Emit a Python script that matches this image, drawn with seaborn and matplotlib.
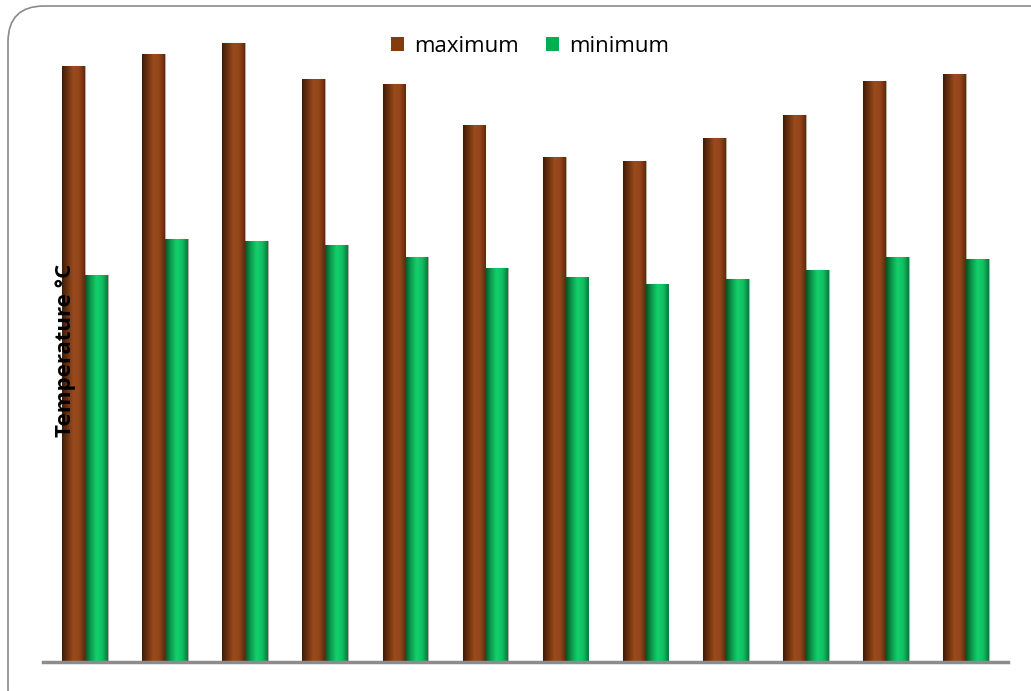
import numpy as np
import pandas as pd
import matplotlib
matplotlib.use("Agg")
import matplotlib.pyplot as plt
import seaborn as sns
from matplotlib.patches import FancyBboxPatch, Patch
from matplotlib.colors import LinearSegmentedColormap

# Monthly mean temperatures (°C)
months = ["Jan", "Feb", "Mar", "Apr", "May", "Jun",
          "Jul", "Aug", "Sep", "Oct", "Nov", "Dec"]
maximum = [33.4, 34.1, 34.7, 32.7, 32.4, 30.1, 28.3, 28.1, 29.4, 30.7, 32.6, 33.0]
minimum = [21.7, 23.7, 23.6, 23.4, 22.7, 22.1, 21.6, 21.2, 21.5, 22.0, 22.7, 22.6]
series = ["maximum", "minimum"]
colors = {"maximum": "#843C0C", "minimum": "#00B050"}

df = pd.DataFrame({
    "month": months * 2,
    "temp": maximum + minimum,
    "series": ["maximum"] * len(months) + ["minimum"] * len(months),
})

sns.set_theme(style="white")
plt.rcParams["font.family"] = ["Open Sans", "DejaVu Sans"]

fig = plt.figure(figsize=(10.31, 6.91), dpi=100)
ax = fig.add_axes([43 / 1031, 29 / 691, 965 / 1031, 642 / 691])

sns.barplot(data=df, x="month", y="temp", hue="series", hue_order=series,
            palette=colors, width=0.57, saturation=1, ax=ax,
            edgecolor="#b0b0b0", linewidth=0.8, legend=False)

# Cylinder-style shading across each bar
cmaps = {
    "maximum": LinearSegmentedColormap.from_list(
        "brown_cyl", ["#3f1c06", "#6e3210", "#9a4c1e", "#92461a", "#5e2a0c"]),
    "minimum": LinearSegmentedColormap.from_list(
        "green_cyl", ["#0a4f26", "#0c9a4a", "#14d06c", "#10c062", "#087a3a"]),
}
grad = np.linspace(0, 1, 256).reshape(1, -1)
n = len(months)
for i, patch in enumerate(ax.patches[:2 * n]):
    key = series[i // n]
    x0, y0 = patch.get_x(), patch.get_y()
    w, h = patch.get_width(), patch.get_height()
    im = ax.imshow(grad, cmap=cmaps[key], aspect="auto",
                   extent=(x0, x0 + w, y0, y0 + h), zorder=patch.get_zorder() + 0.1,
                   interpolation="bicubic")
    im.set_clip_path(patch)

pad = 0.025
ax.set_xlim(-0.5 - pad, n - 0.5 + pad)
ax.set_ylim(0, 36)
ax.set_xticks([])
ax.set_yticks([])
ax.set_xlabel("")
ax.set_ylabel("")
for side in ["top", "right", "left"]:
    ax.spines[side].set_visible(False)
ax.spines["bottom"].set_color("#8c8c8c")
ax.spines["bottom"].set_linewidth(2.5)
ax.spines["bottom"].set_zorder(5)
ax.set_facecolor("none")

# Axis title drawn over the first bar
fig.text(66 / 1031, 1 - 350 / 691, "Temperature °C", rotation=90,
         ha="center", va="center", fontsize=16, fontweight="bold",
         color="black", zorder=10)

# Legend
handles = [Patch(facecolor=colors[s], edgecolor="none") for s in series]
leg = fig.legend(handles, series, loc="center", bbox_to_anchor=(530 / 1031, 1 - 46 / 691),
                 ncol=2, frameon=False, fontsize=16, handlelength=0.6, handleheight=0.6,
                 handletextpad=0.45, columnspacing=1.2)
for t in leg.get_texts():
    t.set_color("black")

# Rounded outer frame
frame = FancyBboxPatch((8 / 1031, -0.05), 1.05, 1.05 - 6 / 691,
                       boxstyle="round,pad=0,rounding_size=0.035",
                       transform=fig.transFigure, facecolor="none",
                       edgecolor="#8a8a8a", linewidth=1.2, zorder=0,
                       mutation_aspect=1031 / 691)
fig.patches.append(frame)

fig.savefig("out.png", dpi=100)
